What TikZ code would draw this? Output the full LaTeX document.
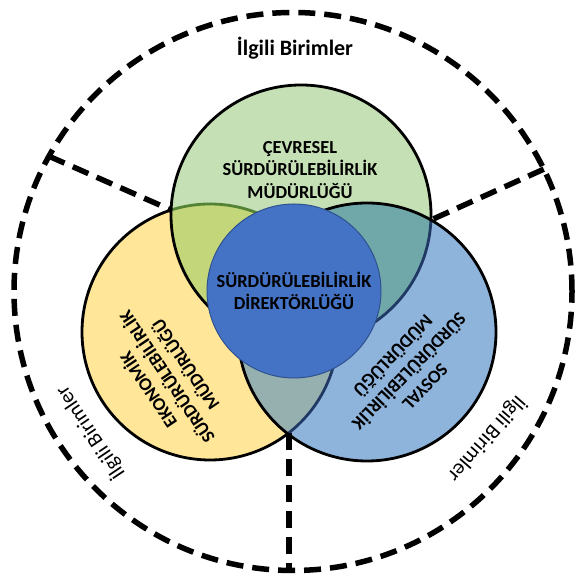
\documentclass[tikz,border=0pt]{standalone}
\usepackage{fontspec}
\setmainfont{Carlito}
\usepackage{tikz}
\usetikzlibrary{positioning, calc, backgrounds}
\definecolor{YellowFill}{RGB}{255,230,153}
\definecolor{GreenFill}{RGB}{197,224,180}
\definecolor{BlueFill}{RGB}{143,180,220}
\definecolor{GreenYellow}{RGB}{196,214,122}
\definecolor{GreenBlue}{RGB}{112,168,170}
\definecolor{YellowBlue}{RGB}{150,176,176}
\definecolor{CoreFill}{RGB}{68,114,196}
\definecolor{CoreLine}{RGB}{47,82,143}
\definecolor{DarkGreen}{RGB}{84,130,53}
\definecolor{DarkNavy}{RGB}{31,56,100}
\tikzstyle{Dash} = [
	line width = 5.5pt,
	dash pattern = on 17pt off 9pt
	]
\tikzstyle{Ring} = [
	line width = 2.8pt
	]

\begin{document}
\begin{tikzpicture}[x=1pt, y=1pt,
unit/.style={align=center, 
	font=\fontsize{18.4}{22.5}\selectfont\bfseries
	},
outer/.style={font=\fontsize{21}{25}\selectfont}
]
 \useasboundingbox (0,0) rectangle (578,577);
 \coordinate (O) at (293,285.5);
 \coordinate (Y) at (210,245);
 \coordinate (G) at (301,362);
 \coordinate (B) at (367,245);

 \fill[YellowFill] (Y) circle[radius=128pt];
 \draw[Ring] (Y) circle[radius=128pt];
 \fill[GreenFill] (G) circle[radius=130pt];
 \begin{scope}
  \clip (G) circle[radius=130pt];
  \fill[GreenYellow] (Y) circle[radius=128pt];
  \draw[Ring, DarkGreen] (Y) circle[radius=128pt];
 \end{scope}
 \draw[Ring] (G) circle[radius=130pt];
 \fill[BlueFill] (B) circle[radius=129pt];
 \begin{scope}
  \clip (B) circle[radius=129pt];
  \fill[GreenBlue] (G) circle[radius=130pt];
  \fill[YellowBlue] (Y) circle[radius=128pt];
  \draw[Ring, DarkNavy] (G) circle[radius=130pt];
  \draw[Ring, DarkNavy] (Y) circle[radius=128pt];
 \end{scope}
 \draw[Ring] (B) circle[radius=129pt];

 \node[unit, circle, fill=CoreFill, draw=CoreLine, line width=1pt, minimum size=174pt] (core) at (294,286) {SÜRDÜRÜLEBİLİRLİK\\DİREKTÖRLÜĞÜ};
 \node[unit] (env) at (300,407) {ÇEVRESEL\\SÜRDÜRÜLEBİLİRLİK\\MÜDÜRLÜĞÜ};
 \node[unit, rotate=124] (eco) at (166,199) {EKONOMİK\\SÜRDÜRÜLEBİLİRLİK\\MÜDÜRLÜĞÜ};
 \node[unit, rotate=-134] (soc) at (409,206) {SOSYAL\\SÜRDÜRÜLEBİLİRLİK\\MÜDÜRLÜĞÜ};

 \node[outer, font=\fontsize{22}{26}\selectfont\bfseries] (top) at (295,529) {İlgili Birimler};
 \node[outer, rotate=124] (left) at (90,144) {İlgili Birimler};
 \node[outer, rotate=-131] (right) at (487,138) {İlgili Birimler};

 \coordinate (jl) at (171,367);
 \coordinate (jr) at (431,357);
 \coordinate (jb) at (289,144);
 \coordinate (ol) at ($(O)+(151:279)$);
 \coordinate (or) at ($(O)+(26:279)$);
 \coordinate (ob) at ($(O)+(270:279)$);

 \draw[Dash] (O) circle[radius=279pt];
 \draw[Dash] (ol) -- (jl);
 \draw[Dash] (or) -- (jr);
 \draw[Dash] (jb) -- (jb |- ob);
 
\end{tikzpicture}
\end{document}
